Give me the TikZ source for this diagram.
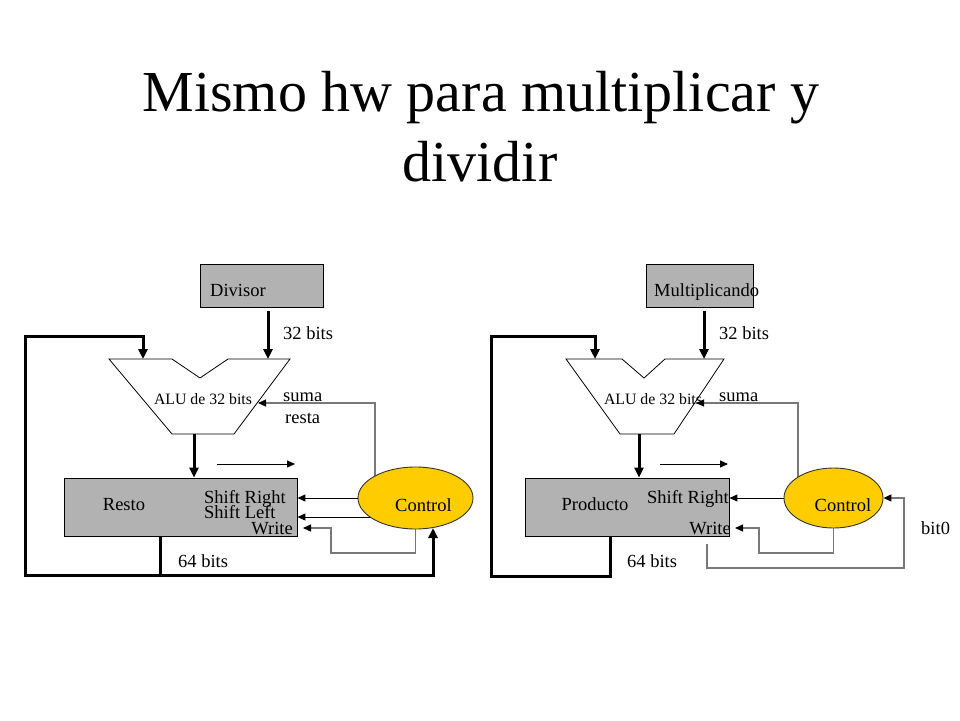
\documentclass[tikz,border=0pt]{standalone}
\usepackage{fontspec}
\setmainfont{Liberation Serif}
\usetikzlibrary{arrows.meta,shapes.geometric}
\pgfdeclarelayer{bg}
\pgfsetlayers{bg,main}
\definecolor{boxgray}{RGB}{178,178,178}
\definecolor{ctlyellow}{RGB}{255,204,0}
\definecolor{sigray}{RGB}{120,120,120}
\newcommand{\lblfont}{\fontsize{18.5}{22}\selectfont}
\newcommand{\alufont}{\fontsize{15.8}{19}\selectfont}
\newcommand{\ttlfont}{\fontsize{58}{70}\selectfont}
\tikzset{
  regbox/.style={draw=black, fill=boxgray, line width=0.9pt, inner sep=0pt},
  ctlnode/.style={ellipse, draw=black!80, fill=ctlyellow, line width=0.9pt, inner sep=0pt},
  alushape/.style={draw=black, line width=0.8pt, fill=white},
  bus/.style={line width=3pt, -{Triangle[length=10pt,width=9pt]}},
  busline/.style={line width=3pt},
  sig/.style={line width=1pt, -{Triangle[length=8pt,width=7pt]}},
  ctlsig/.style={line width=1.2pt, draw=sigray, -{Triangle[length=8pt,width=7pt,black]}},
  lbl/.style={font=\lblfont, inner sep=0pt},
  alulbl/.style={font=\alufont, inner sep=0pt},
  ttl/.style={font=\ttlfont, inner sep=0pt}
}
\begin{document}
\begin{tikzpicture}[x=1pt,y=-1pt]
\useasboundingbox (0,0) rectangle (960,720);

% title
\node[ttl, anchor=base] (t1) at (481,111) {Mismo hw para multiplicar y};
\node[ttl, anchor=base] (t2) at (480,181) {dividir};

% ================= LEFT (division) =================
\node[regbox, minimum width=123pt, minimum height=43pt] (div) at (261.5,285.5) {};
\node[lbl, anchor=base west] (divt) at (210,296) {Divisor};
\coordinate (aluLin) at (143,359);
\coordinate (aluRin) at (268,359);
\coordinate (aluOut) at (194,434);
\coordinate (aluSel) at (258,403);
\draw[alushape] (109,359)--(172,359)--(200,378)--(228,359)--(290,359)--(234,434)--(172,434)--cycle;
\node[alulbl, anchor=base] (alut1) at (203,404) {ALU de 32 bits};
\node[regbox, minimum width=233pt, minimum height=58pt] (resto) at (180.5,507) {};
\node[ctlnode, minimum width=115pt, minimum height=62pt] (ctl1) at (415.5,498) {};
\node[lbl, anchor=base] (ctl1t) at (423.5,511) {Control};

\node[lbl, anchor=base west] (b32a) at (283,339) {32 bits};
\node[lbl, anchor=base west] (suma1) at (283,401) {suma};
\node[lbl, anchor=base west] (resta1) at (285,423) {resta};
\node[lbl, anchor=base] (restot) at (124,510) {Resto};
\node[lbl, anchor=base east] (sr1) at (286,503) {Shift Right};
\node[lbl, anchor=base west] (sl1) at (204,518) {Shift Left};
\node[lbl, anchor=base east] (wr1t) at (293,534) {Write};
\node[lbl, anchor=base west] (b64a) at (178,567) {64 bits};

\coordinate (sha) at (217,464);
\coordinate (shb) at (295,464);
\coordinate (wr1) at (303,528);

\draw[bus, shorten <=4pt] (div.south -| aluRin) -- (aluRin);
\draw[bus] (aluOut) -- (aluOut |- resto.north);
\draw[sig] (sha) -- (shb);
\draw[sig] (ctl1.west) -- (ctl1.west -| resto.east);
\begin{pgfonlayer}{bg}
\fill[white] (0,0) rectangle (960,720);
\draw[sig] (ctl1.center |- 0,517) -- (resto.east |- 0,517);
\draw[ctlsig] (375,0 |- ctl1.center) |- (aluSel);
\draw[ctlsig] (ctl1.center) |- (331,553) |- (wr1);
\draw[bus] (160,575) -| (433,528);
\end{pgfonlayer}
\draw[bus] (resto.south -| 160,0) |- (25,575) |- (143,336) -- (aluLin);

% ================= RIGHT (multiplication) =================
\node[regbox, minimum width=107pt, minimum height=43pt] (mul) at (699.5,285.5) {};
\node[lbl, anchor=base west] (mult) at (654,296) {Multiplicando};
\coordinate (aluLin2) at (595,359);
\coordinate (aluRin2) at (704,359);
\coordinate (aluOut2) at (639,434);
\coordinate (aluSel2) at (696,403);
\draw[alushape] (566,359)--(622,359)--(644,378)--(665,359)--(724,359)--(674,434)--(620,434)--cycle;
\node[alulbl, anchor=base] (alut2) at (653,404) {ALU de 32 bits};
\node[regbox, minimum width=204pt, minimum height=58pt] (prod) at (627,507) {};
\node[ctlnode, minimum width=99pt, minimum height=60pt] (ctl2) at (833.5,498) {};
\node[lbl, anchor=base] (ctl2t) at (843,511) {Control};

\node[lbl, anchor=base west] (b32b) at (719,339) {32 bits};
\node[lbl, anchor=base west] (suma2) at (719,401) {suma};
\node[lbl, anchor=base] (prodt) at (595,510) {Producto};
\node[lbl, anchor=base east] (sr2) at (729,503) {Shift Right};
\node[lbl, anchor=base east] (wr2t) at (731,534) {Write};
\node[lbl, anchor=base west] (b64b) at (627,567) {64 bits};
\node[lbl, anchor=base west] (bit0) at (921,534) {bit0};

\coordinate (sha2) at (660,464);
\coordinate (shb2) at (728,464);
\coordinate (wr2) at (735,528);
\coordinate (b0s) at (707,544);

\draw[bus, shorten <=4pt] (mul.south -| aluRin2) -- (aluRin2);
\draw[bus] (aluOut2) -- (aluOut2 |- prod.north);
\draw[sig] (sha2) -- (shb2);
\draw[sig] (ctl2.west) -- (ctl2.west -| prod.east);
\begin{pgfonlayer}{bg}
\draw[ctlsig] (798,0 |- ctl2.center) |- (aluSel2);
\draw[ctlsig] (ctl2.center) |- (759,553) |- (wr2);
\end{pgfonlayer}
\draw[ctlsig] (b0s) |- (904,568) |- (ctl2.east);
\draw[bus] (prod.south -| 610,0) |- (491,576) |- (595,336) -- (aluLin2);
\end{tikzpicture}
\end{document}
